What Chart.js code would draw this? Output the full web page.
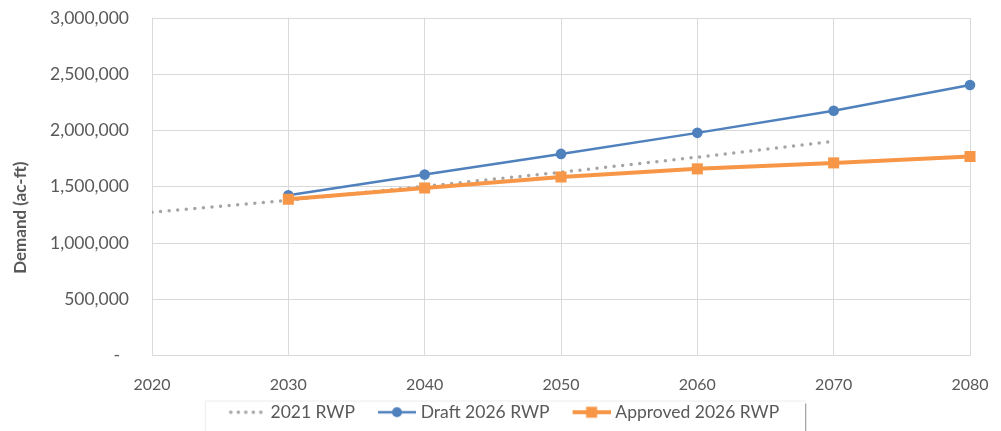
<!DOCTYPE html>
<html>
<head>
<meta charset="utf-8">
<script src="https://cdn.jsdelivr.net/npm/chart.js@4"></script>
<style>
  body { margin: 0; background: #fff; }
  canvas { display: block; }
</style>
</head>
<body>
<canvas id="myChart" width="1001" height="431"></canvas>
<script>
// data
const years = [2020, 2030, 2040, 2050, 2060, 2070, 2080];
const rwp2021 = [1273000, 1380000, 1504000, 1629000, 1763000, 1905000, null];
const draft2026 = [null, 1424000, 1608000, 1792000, 1979000, 2175000, 2404000];
const approved2026 = [null, 1389000, 1489000, 1587000, 1659000, 1712000, 1769000];
const seriesNames = ["2021 RWP", "Draft 2026 RWP", "Approved 2026 RWP"];

const gray = "#a5a5a5";
const blue = "#4f81bd";
const orange = "#f79646";
const textColor = "#595959";
const gridColor = "#d9d9d9";
const fontFamily = "Lato, 'Open Sans', sans-serif";

const toPoints = (arr) => years.map((x, i) => ({ x: x, y: arr[i] }));

// small canvases used as legend samples (blank gap + line + marker)
const gap = 17;
function makeSample(kind) {
  const c = document.createElement("canvas");
  c.width = gap + 38;
  c.height = 14;
  const ctx = c.getContext("2d");
  ctx.translate(gap, 0);
  const mid = 7;
  if (kind === "dots") {
    ctx.fillStyle = gray;
    for (let x = 3; x < 38; x += 7.5) {
      ctx.beginPath();
      ctx.arc(x, mid, 1.8, 0, Math.PI * 2);
      ctx.fill();
    }
  } else if (kind === "circle") {
    ctx.strokeStyle = blue;
    ctx.lineWidth = 2.5;
    ctx.beginPath();
    ctx.moveTo(0, mid);
    ctx.lineTo(38, mid);
    ctx.stroke();
    ctx.fillStyle = blue;
    ctx.beginPath();
    ctx.arc(19, mid, 5, 0, Math.PI * 2);
    ctx.fill();
  } else {
    ctx.strokeStyle = orange;
    ctx.lineWidth = 4;
    ctx.beginPath();
    ctx.moveTo(0, mid);
    ctx.lineTo(38, mid);
    ctx.stroke();
    ctx.fillStyle = orange;
    ctx.fillRect(13.5, mid - 5.5, 11, 11);
  }
  return c;
}
const samples = [makeSample("dots"), makeSample("circle"), makeSample("square")];

// move the legend a bit to the right, as in the original
const legendShift = {
  id: "legendShift",
  afterLayout(chart) {
    chart.legend.left += 12;
    chart.legend.right += 12;
  },
};

// light frame round the legend, like the original
const legendFrame = {
  id: "legendFrame",
  afterDraw(chart) {
    const boxes = chart.legend.legendHitBoxes;
    if (!boxes || !boxes.length) return;
    const left = Math.min(...boxes.map((b) => b.left)) + gap - 4 - 23;
    const right = Math.max(...boxes.map((b) => b.left + b.width)) + 26;
    const top = boxes[0].top - 3;
    const ctx = chart.ctx;
    ctx.save();
    ctx.strokeStyle = "#ececec";
    ctx.lineWidth = 1;
    ctx.beginPath();
    ctx.moveTo(left + 0.5, chart.height);
    ctx.lineTo(left + 0.5, top + 0.5);
    ctx.lineTo(right + 0.5, top + 0.5);
    ctx.stroke();
    ctx.strokeStyle = "#8c8c8c";
    ctx.beginPath();
    ctx.moveTo(right + 0.5, top + 3);
    ctx.lineTo(right + 0.5, chart.height);
    ctx.stroke();
    ctx.restore();
  },
};

const myChart = new Chart("myChart", {
  type: "line",
  data: {
    datasets: [
      {
        label: seriesNames[0],
        data: toPoints(rwp2021),
        borderColor: gray,
        borderWidth: 3.5,
        borderDash: [0, 8.6],
        borderCapStyle: "round",
        pointRadius: 0,
        order: 1,
      },
      {
        label: seriesNames[1],
        data: toPoints(draft2026),
        borderColor: blue,
        backgroundColor: blue,
        borderWidth: 2.5,
        pointStyle: "circle",
        pointRadius: 5.3,
        pointBorderWidth: 0,
        clip: false,
        order: 2,
      },
      {
        label: seriesNames[2],
        data: toPoints(approved2026),
        borderColor: orange,
        backgroundColor: orange,
        borderWidth: 4,
        pointStyle: "rect",
        pointRadius: 7.8,
        pointBorderWidth: 0,
        clip: false,
        order: 0,
      },
    ],
  },
  options: {
    responsive: false,
    animation: false,
    devicePixelRatio: 1,
    layout: { padding: { top: 18, right: 31, left: 0, bottom: 0 } },
    scales: {
      x: {
        type: "linear",
        min: 2020,
        max: 2080,
        ticks: {
          stepSize: 10,
          padding: 2,
          color: textColor,
          font: { family: fontFamily, size: 16 },
          callback: (v) => String(v),
        },
        grid: { color: gridColor, tickLength: 18, tickColor: "transparent" },
        border: { color: gridColor },
        afterFit: (scale) => { scale.height = 38; },
      },
      y: {
        min: 0,
        max: 3000000,
        ticks: {
          stepSize: 500000,
          padding: 2,
          color: textColor,
          font: { family: fontFamily, size: 17.5 },
          callback: (v) => (v === 0 ? "-  " : v.toLocaleString("en-US")),
        },
        title: {
          display: true,
          text: "Demand (ac-ft)               ",
          color: textColor,
          font: { family: fontFamily, size: 17, weight: "bold" },
          padding: { top: 10, bottom: 0 },
        },
        grid: { color: gridColor, tickLength: 21, tickColor: "transparent" },
        border: { color: gridColor },
        afterFit: (scale) => { scale.width = 152; },
      },
    },
    plugins: {
      tooltip: { enabled: false },
      legend: {
        position: "bottom",
        labels: {
          usePointStyle: true,
          pointStyleWidth: gap + 30,
          padding: 10,
          color: textColor,
          font: { family: fontFamily, size: 17.5 },
          generateLabels: (chart) =>
            chart.data.datasets.map((ds, i) => ({
              text: ds.label,
              pointStyle: samples[i],
              fontColor: textColor,
              lineWidth: 0,
              strokeStyle: "transparent",
              fillStyle: "transparent",
              datasetIndex: i,
            })),
        },
      },
    },
  },
  plugins: [legendShift, legendFrame],
});
</script>
</body>
</html>
